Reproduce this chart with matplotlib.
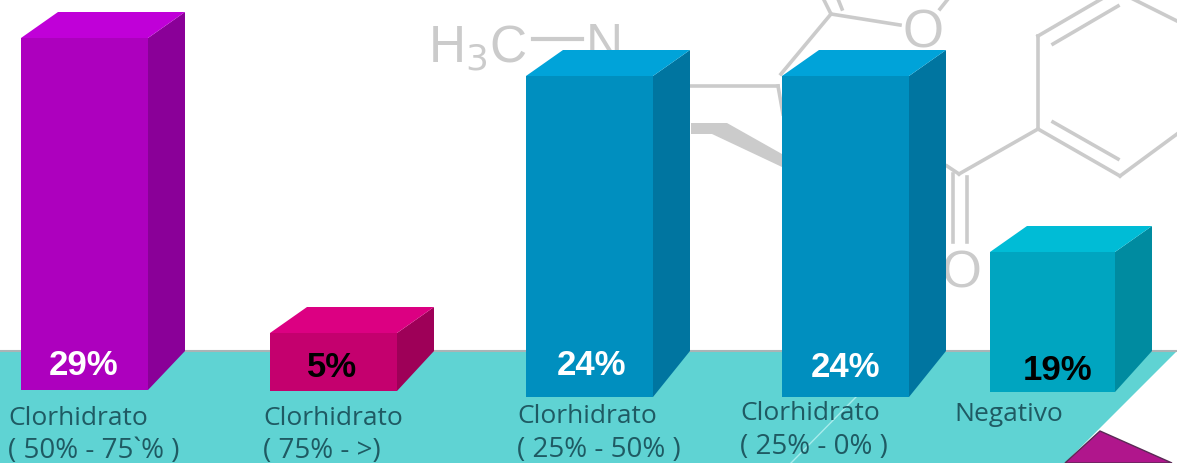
import matplotlib
matplotlib.use('Agg')
import matplotlib.pyplot as plt
from matplotlib.patches import Polygon

# data
percent = ['29%', '5%', '24%', '24%', '19%']
line1 = ['Clorhidrato', 'Clorhidrato', 'Clorhidrato', 'Clorhidrato', 'Negativo']
line2 = ['( 50% - 75`% )', '( 75% - >)', '( 25% - 50% )', '( 25% - 0% )', '']
# drawn heights (they are not proportional to the percentages)
bar_heights = [352, 58, 321, 321, 140]

# layout, all in pixels of the picture
bar_left = [21, 270, 526, 782, 990]
bar_widths = [127, 127, 127, 127, 125]
bar_base = [391, 392, 398, 398, 393]
dx, dy = 37, 26
floor_y = 352
label_x = [8, 263, 517, 740, 954]
label_y1 = [419, 419, 417, 414, 415]
label_y2 = [451, 451, 450, 447, 0]
percent_color = ['white', 'black', 'white', 'white', 'black']
percent_x = [84, 332, 591, 846, 1058]
percent_y = [366, 368, 366, 368, 371]

front = ['#AD00BE', '#C4006E', '#008FBF', '#008FBF', '#00A5C0']
side = ['#8A0098', '#9E0058', '#0075A0', '#0075A0', '#008BA0']
top = ['#C000D8', '#DC0082', '#00A3D9', '#00A3D9', '#00BCD6']

grey = '#CBCBCB'
label_font = ['Open Sans', 'Liberation Sans']

fig = plt.figure(figsize=(11.77, 4.64), dpi=100)
ax = fig.add_axes([0, 0, 1, 1])
ax.set_xlim(0, 1177)
ax.set_ylim(464, 0)
ax.axis('off')

# molecule behind the bars
bonds = [
    [(831, 15), (900, 26)], [(831, 15), (781, 75)], [(821, -5), (831, 15)], [(836, -5), (842, 10)],
    [(940, 10), (948, 0)],
    [(691, 87), (778, 87)], [(778, 87), (783, 115)],
    [(1038, 37), (1038, 130)], [(1038, 37), (1110, -5)], [(1053, 45), (1118, 7)],
    [(1038, 130), (1120, 177)], [(1120, 177), (1177, 135)], [(1053, 123), (1118, 160)],
    [(1133, 0), (1177, 22)],
    [(1038, 130), (959, 175)], [(959, 175), (947, 167)],
    [(953, 175), (953, 243)], [(967, 178), (967, 243)],
]
for b in bonds:
    ax.plot([b[0][0], b[1][0]], [b[0][1], b[1][1]], color=grey, lw=2.6, zorder=1)
ax.add_patch(Polygon([(691, 124), (727, 124), (782, 155), (782, 168), (712, 135), (691, 135)],
                     color=grey, lw=0, zorder=1))
ax.plot([533, 582], [40, 40], color=grey, lw=3, zorder=1)
ax.text(428, 62, 'H$_3$C', color=grey, fontsize=37, family='Liberation Sans',
        math_fontfamily='custom', zorder=1)
ax.text(586, 60, 'N', color=grey, fontsize=37, family='Liberation Sans', zorder=1)
ax.text(923, 47, 'O', color=grey, fontsize=38, family='Liberation Sans', ha='center', zorder=1)
ax.text(962, 288, 'O', color=grey, fontsize=37, family='Liberation Sans', ha='center', zorder=1)

# floor
ax.add_patch(Polygon([(0, floor_y), (1177, floor_y), (1065, 464), (0, 464)],
                     facecolor='#5FD3D3', edgecolor='none', zorder=2))
ax.plot([0, 1177], [floor_y, floor_y], color='#A9B4B6', lw=1.5, zorder=2)
ax.plot([857, 791], [397, 464], color='#A8ECEC', lw=1, zorder=2)
ax.add_patch(Polygon([(1100, 432), (1065, 464), (1172, 464)], facecolor='#B0168C',
                     edgecolor='#5A2A55', lw=1, zorder=2))

# bars
centers = [l + w / 2 for l, w in zip(bar_left, bar_widths)]
rects = ax.bar(centers, [-h for h in bar_heights], width=bar_widths, bottom=bar_base,
               color=front, zorder=3)
for i, r in enumerate(rects):
    x0 = r.get_x()
    x1 = x0 + r.get_width()
    base = bar_base[i]
    t = base - bar_heights[i]
    ax.add_patch(Polygon([(x1, t), (x1 + dx, t - dy), (x1 + dx, floor_y), (x1, base)],
                         facecolor=side[i], edgecolor='none', zorder=3))
    ax.add_patch(Polygon([(x0, t), (x0 + dx, t - dy), (x1 + dx, t - dy), (x1, t)],
                         facecolor=top[i], edgecolor='none', zorder=3))
    ax.text(percent_x[i], percent_y[i], percent[i], color=percent_color[i], fontsize=25,
            fontweight='bold', family='Liberation Sans', ha='center', va='center', zorder=5)
    ax.text(label_x[i], label_y1[i], line1[i], color='#1F5A63', fontsize=19,
            family=label_font, va='center', zorder=5)
    if line2[i]:
        ax.text(label_x[i], label_y2[i], line2[i], color='#1F5A63', fontsize=20,
                family=label_font, va='center', zorder=5)

fig.savefig('out.png', dpi=100)
